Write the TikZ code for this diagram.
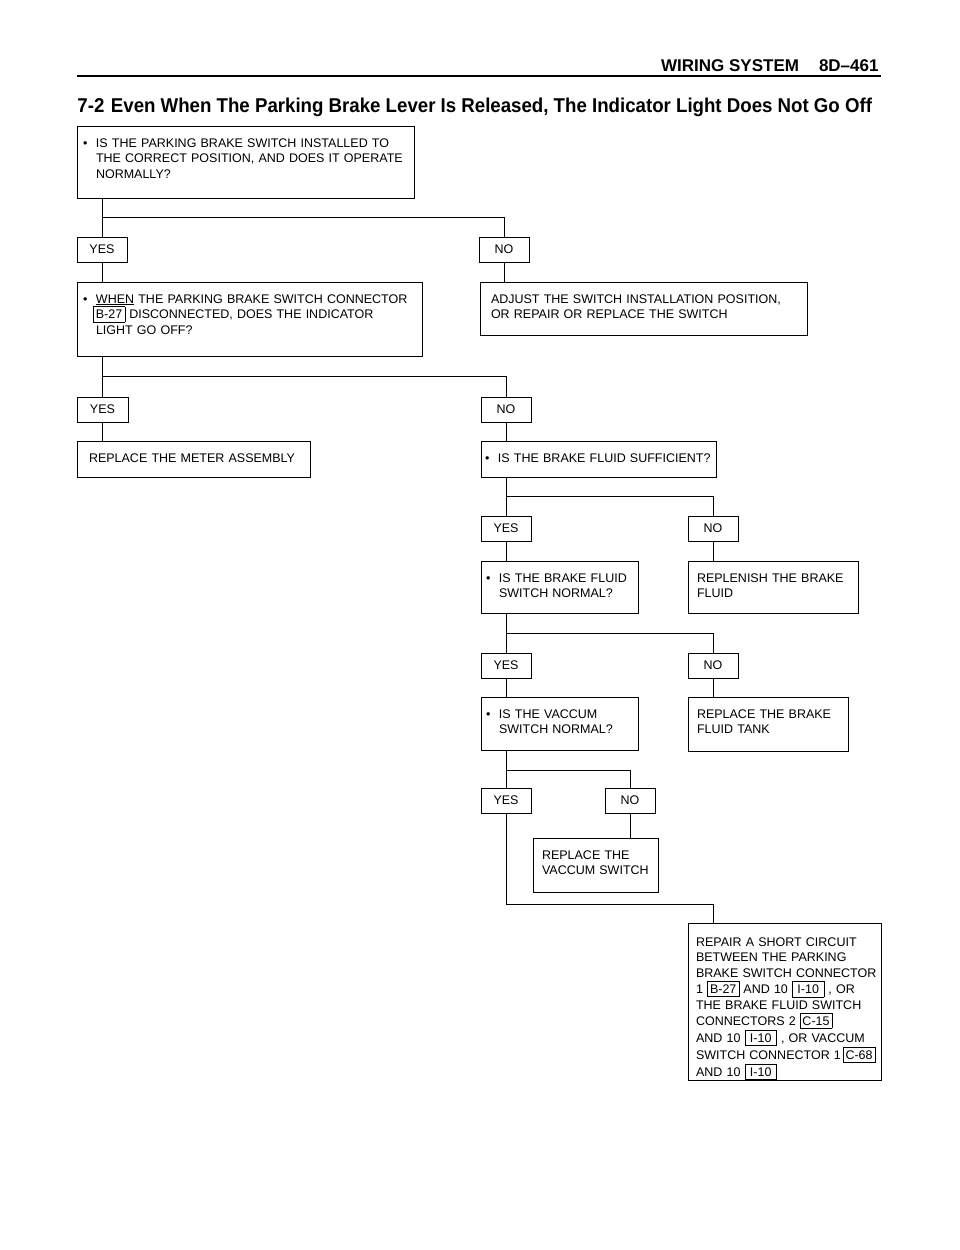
\documentclass[tikz,border=0pt]{standalone}
\usepackage{fontspec}
\usepackage{graphicx}
\setmainfont{Liberation Sans}
\usetikzlibrary{calc}

\setlength{\fboxsep}{3pt}
\setlength{\fboxrule}{0.6pt}
\newcommand{\conn}[1]{\fbox{\makebox[25pt]{#1}}}
\newcommand{\bul}{\makebox[13pt][l]{\textbullet}}
\newcommand{\ind}{\hspace*{13pt}}

\begin{document}
\begin{tikzpicture}[x=1pt,y=-1pt,line width=0.9pt,
                    main node/.style={draw,rectangle,anchor=north west,align=left,
                      inner xsep=9pt,inner ysep=0pt,outer sep=0pt,text height=21pt,
                      font=\fontsize{12.5}{15.8}\selectfont},
                    bullet node/.style={main node,inner xsep=6pt},
                    answer node/.style={draw,rectangle,anchor=north west,inner sep=0pt,
                      outer sep=0pt,minimum width=50pt,minimum height=25pt,
                      font=\fontsize{12.5}{14}\selectfont}]

    \useasboundingbox (0,0) rectangle (960,1250);

    % Heading
    \node[anchor=base east,inner sep=0pt,font=\bfseries\fontsize{17}{19}\selectfont] (head) at (879,71)
        {WIRING SYSTEM\hspace{20pt}8D--461};
    \draw[line width=1.1pt] (77,76) -- (881,76);
    \node[anchor=base west,inner sep=0pt,font=\bfseries\fontsize{20}{22}\selectfont] (title) at (77,112)
        {\scalebox{0.933}[1]{7-2\hspace{7pt}Even When The Parking Brake Lever Is Released, The Indicator Light Does Not Go Off}};

    % Define boxes
    \node[bullet node,text width=325pt,text depth=51pt] (q1) at (77,126)
        {\bul IS THE PARKING BRAKE SWITCH INSTALLED TO\\ \ind THE CORRECT POSITION, AND DOES IT OPERATE\\ \ind NORMALLY?};
    \node[answer node] (y1) at (77,237) {YES};
    \node[answer node] (n1) at (479,237) {NO};
    \node[bullet node,text width=333pt,text depth=53pt] (q2) at (77,282)
        {\bul\underline{WHEN} THE PARKING BRAKE SWITCH CONNECTOR\\ \hspace*{10pt}\conn{B-27} DISCONNECTED, DOES THE INDICATOR\\ \ind LIGHT GO OFF?};
    \node[main node,inner xsep=11pt,text width=305pt,text depth=32pt] (a1) at (480,282)
        {ADJUST THE SWITCH INSTALLATION POSITION,\\ OR REPAIR OR REPLACE THE SWITCH};
    \node[answer node,minimum width=51pt] (y2) at (77,397) {YES};
    \node[answer node] (n2) at (481,397) {NO};
    \node[main node,inner xsep=12pt,text width=209pt,text depth=15pt] (r1) at (77,441)
        {REPLACE THE METER ASSEMBLY};
    \node[bullet node,inner xsep=4pt,text width=227pt,text depth=15pt] (q3) at (481,441)
        {\bul\mbox{IS THE BRAKE FLUID SUFFICIENT?}};
    \node[answer node] (y3) at (481,516) {YES};
    \node[answer node] (n3) at (688,516) {NO};
    \node[bullet node,inner xsep=5pt,text width=147pt,text depth=31pt] (q4) at (481,561)
        {\bul IS THE BRAKE FLUID\\ \ind SWITCH NORMAL?};
    \node[main node,text width=152pt,text depth=31pt] (r2) at (688,561)
        {REPLENISH THE BRAKE\\ FLUID};
    \node[answer node] (y4) at (481,653) {YES};
    \node[answer node] (n4) at (688,653) {NO};
    \node[bullet node,inner xsep=5pt,text width=147pt,text depth=32pt] (q5) at (481,697)
        {\bul IS THE VACCUM\\ \ind SWITCH NORMAL?};
    \node[main node,text width=142pt,text depth=33pt] (r3) at (688,697)
        {REPLACE THE BRAKE\\ FLUID TANK};
    \node[answer node] (y5) at (481,788) {YES};
    \node[answer node] (n5) at (605,788) {NO};
    \node[main node,text width=107pt,text depth=33pt] (r4) at (533,838)
        {REPLACE THE\\ VACCUM SWITCH};
    \node[main node,inner xsep=8pt,text height=23pt,text width=177pt,text depth=134pt] (r5) at (688,923)
        {\mbox{REPAIR A SHORT CIRCUIT}\\ \mbox{BETWEEN THE PARKING}\\ \mbox{BRAKE SWITCH CONNECTOR}\\
         \mbox{1 \conn{B-27} AND 10 \conn{I-10} , OR}\\ \mbox{THE BRAKE FLUID SWITCH}\\
         \mbox{CONNECTORS 2 \conn{C-15}}\\ \mbox{AND 10 \conn{I-10} , OR VACCUM}\\
         \mbox{SWITCH CONNECTOR 1\,\conn{C-68}}\\ \mbox{AND 10 \conn{I-10}}};

    % Define edges
    \draw (q1.south -| y1) -- (y1.north);
    \draw ($(q1.south -| y1)!.5!(y1.north)$) -| (n1.north);
    \draw (y1.south) -- (q2.north -| y1);
    \draw (n1.south) -- (a1.north -| n1);

    \draw (q2.south -| y2) -- (y2.north);
    \draw ($(q2.south -| y2)!.5!(y2.north)$) -| (n2.north);
    \draw (y2.south) -- (r1.north -| y2);
    \draw (n2.south) -- (q3.north -| n2);

    \draw (q3.south -| y3) -- (y3.north);
    \draw ($(q3.south -| y3)!.5!(y3.north)$) -| (n3.north);
    \draw (y3.south) -- (q4.north -| y3);
    \draw (n3.south) -- (r2.north -| n3);

    \draw (q4.south -| y4) -- (y4.north);
    \draw ($(q4.south -| y4)!.5!(y4.north)$) -| (n4.north);
    \draw (y4.south) -- (q5.north -| y4);
    \draw (n4.south) -- (r3.north -| n4);

    \draw (q5.south -| y5) -- (y5.north);
    \draw ($(q5.south -| y5)!.55!(y5.north)$) -| (n5.north);
    \draw (n5.south) -- (r4.north -| n5);
    \draw (y5.south) -- ++(0,91) -| (r5.north -| n4);

\end{tikzpicture}
\end{document}
